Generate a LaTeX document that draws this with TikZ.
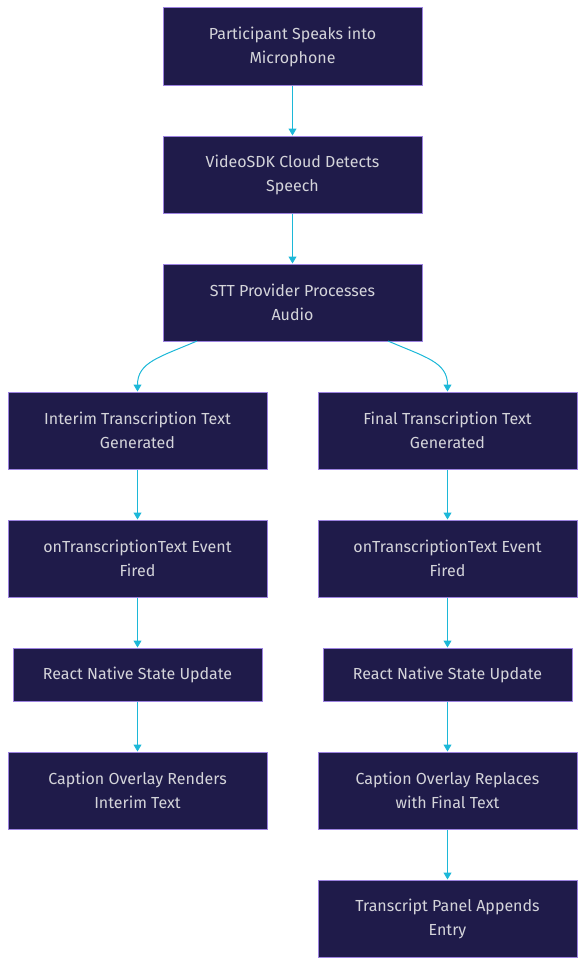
\documentclass[tikz,border=0pt]{standalone}
\usepackage{fontspec}
\setmainfont{Fira Sans}
\usetikzlibrary{arrows.meta}
\definecolor{boxfill}{HTML}{1F1B4A}
\definecolor{boxline}{HTML}{9C82E0}
\definecolor{txt}{HTML}{D4D4DA}
\definecolor{edge}{HTML}{1CB8D8}
\tikzset{
  flowbox/.style={draw=boxline, fill=boxfill, line width=1pt, text=txt, align=center,
    font=\fontsize{16}{24}\selectfont, inner sep=0pt, minimum height=77pt, minimum width=259pt},
  shortbox/.style={flowbox, minimum height=53pt, minimum width=249pt},
  flow/.style={draw=edge, line width=1pt, -{Triangle[length=7pt,width=8pt]}}
}
\begin{document}
\begin{tikzpicture}[x=1pt,y=-1pt]
\useasboundingbox (0,0) rectangle (586,966);
\node[flowbox] (a) at (292.5,46.5) {Participant Speaks into\\Microphone};
\node[flowbox] (b) at (292.5,174.5) {VideoSDK Cloud Detects\\Speech};
\node[flowbox] (c) at (292.5,302.5) {STT Provider Processes\\Audio};
\node[flowbox] (l1) at (137.5,430.5) {Interim Transcription Text\\Generated};
\node[flowbox] (l2) at (137.5,558.5) {onTranscriptionText Event\\Fired};
\node[shortbox] (l3) at (137.5,674.5) {React Native State Update};
\node[flowbox] (l4) at (137.5,790.5) {Caption Overlay Renders\\Interim Text};
\node[flowbox] (r1) at (447.5,430.5) {Final Transcription Text\\Generated};
\node[flowbox] (r2) at (447.5,558.5) {onTranscriptionText Event\\Fired};
\node[shortbox] (r3) at (447.5,674.5) {React Native State Update};
\node[flowbox] (r4) at (447.5,790.5) {Caption Overlay Replaces\\with Final Text};
\node[flowbox] (r5) at (447.5,918.5) {Transcript Panel Appends\\Entry};
\coordinate (cl) at (197,341);
\coordinate (cr) at (388,341);
\draw[flow] (a) -- (b);
\draw[flow] (b) -- (c);
\draw[flow] (cl) .. controls (160,357) and (137.5,362) .. (l1.north);
\draw[flow] (cr) .. controls (425,357) and (447.5,362) .. (r1.north);
\draw[flow] (l1) -- (l2);
\draw[flow] (l2) -- (l3);
\draw[flow] (l3) -- (l4);
\draw[flow] (r1) -- (r2);
\draw[flow] (r2) -- (r3);
\draw[flow] (r3) -- (r4);
\draw[flow] (r4) -- (r5);
\end{tikzpicture}
\end{document}
